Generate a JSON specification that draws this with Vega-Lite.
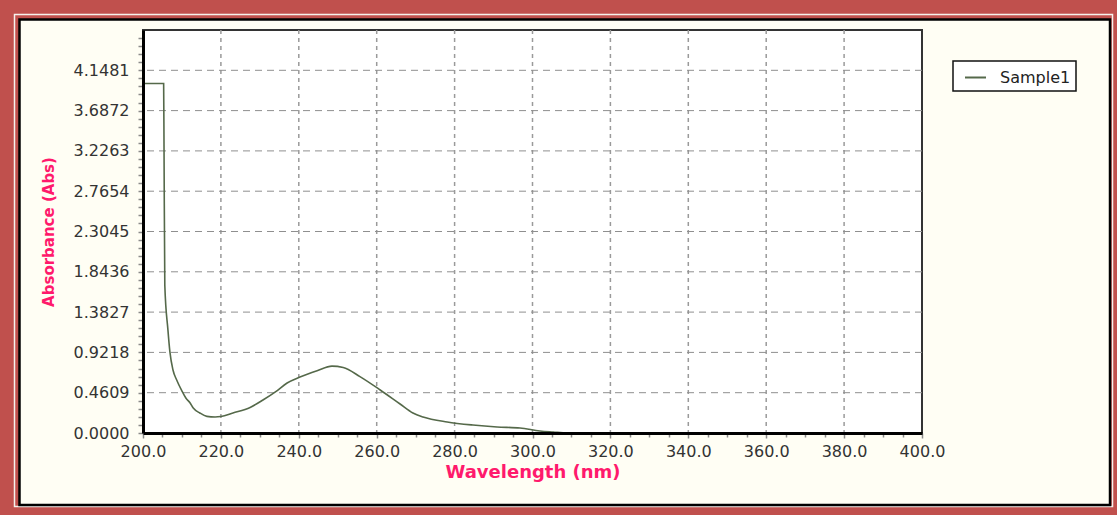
{
  "$schema": "https://vega.github.io/schema/vega-lite/v6.json",
  "width": 779,
  "height": 403,
  "autosize": {"type": "none"},
  "padding": {"left": 143, "top": 30, "right": 195, "bottom": 82},
  "background": "#c0504d",
  "config": {
    "view": {"stroke": null},
    "font": "DejaVu Sans",
    "legend": {
      "orient": "none",
      "legendX": 810,
      "legendY": 31,
      "fillColor": "white",
      "strokeColor": "#111111",
      "strokeWidth": 1.5,
      "padding": 5,
      "symbolType": "stroke",
      "symbolSize": 441,
      "symbolStrokeWidth": 2,
      "symbolOffset": 6,
      "labelFontSize": 16,
      "labelColor": "#222222",
      "labelOffset": 13,
      "labelFont": "DejaVu Sans"
    }
  },
  "datasets": {
    "one": [{"frame": "box"}],
    "spectrum": [
      {"wavelength": 200, "absorbance": 3.997, "series": "Sample1"},
      {"wavelength": 205.3, "absorbance": 3.997, "series": "Sample1"},
      {"wavelength": 205.4, "absorbance": 3.24, "series": "Sample1"},
      {"wavelength": 205.6, "absorbance": 1.69, "series": "Sample1"},
      {"wavelength": 206.4, "absorbance": 1.18, "series": "Sample1"},
      {"wavelength": 206.9, "absorbance": 0.93, "series": "Sample1"},
      {"wavelength": 207.7, "absorbance": 0.72, "series": "Sample1"},
      {"wavelength": 208.65, "absorbance": 0.606, "series": "Sample1"},
      {"wavelength": 210.0, "absorbance": 0.48, "series": "Sample1"},
      {"wavelength": 211.0, "absorbance": 0.4, "series": "Sample1"},
      {"wavelength": 212.1, "absorbance": 0.343, "series": "Sample1"},
      {"wavelength": 212.9, "absorbance": 0.286, "series": "Sample1"},
      {"wavelength": 214.6, "absorbance": 0.229, "series": "Sample1"},
      {"wavelength": 216.4, "absorbance": 0.19, "series": "Sample1"},
      {"wavelength": 218.5, "absorbance": 0.183, "series": "Sample1"},
      {"wavelength": 220.0, "absorbance": 0.188, "series": "Sample1"},
      {"wavelength": 223.1, "absorbance": 0.229, "series": "Sample1"},
      {"wavelength": 227.5, "absorbance": 0.292, "series": "Sample1"},
      {"wavelength": 230.8, "absorbance": 0.377, "series": "Sample1"},
      {"wavelength": 234.0, "absorbance": 0.47, "series": "Sample1"},
      {"wavelength": 237.0, "absorbance": 0.572, "series": "Sample1"},
      {"wavelength": 240.3, "absorbance": 0.64, "series": "Sample1"},
      {"wavelength": 244.7, "absorbance": 0.712, "series": "Sample1"},
      {"wavelength": 248.5, "absorbance": 0.765, "series": "Sample1"},
      {"wavelength": 251.4, "absorbance": 0.75, "series": "Sample1"},
      {"wavelength": 255.7, "absorbance": 0.645, "series": "Sample1"},
      {"wavelength": 260.9, "absorbance": 0.492, "series": "Sample1"},
      {"wavelength": 266.0, "absorbance": 0.332, "series": "Sample1"},
      {"wavelength": 269.3, "absorbance": 0.229, "series": "Sample1"},
      {"wavelength": 271.9, "absorbance": 0.183, "series": "Sample1"},
      {"wavelength": 278.1, "absorbance": 0.126, "series": "Sample1"},
      {"wavelength": 284.7, "absorbance": 0.091, "series": "Sample1"},
      {"wavelength": 290.9, "absorbance": 0.069, "series": "Sample1"},
      {"wavelength": 296.8, "absorbance": 0.057, "series": "Sample1"},
      {"wavelength": 301.9, "absorbance": 0.023, "series": "Sample1"},
      {"wavelength": 305.3, "absorbance": 0.011, "series": "Sample1"},
      {"wavelength": 308.9, "absorbance": 0.0, "series": "Sample1"},
      {"wavelength": 320, "absorbance": 0.0, "series": "Sample1"},
      {"wavelength": 340, "absorbance": 0.0, "series": "Sample1"},
      {"wavelength": 360, "absorbance": 0.0, "series": "Sample1"},
      {"wavelength": 380, "absorbance": 0.0, "series": "Sample1"},
      {"wavelength": 400, "absorbance": 0.0, "series": "Sample1"}
    ],
    "xgrid": [
      {"g": 220}, {"g": 240}, {"g": 260}, {"g": 280}, {"g": 300},
      {"g": 320}, {"g": 340}, {"g": 360}, {"g": 380}
    ],
    "ygrid": [
      {"h": 0.4609}, {"h": 0.9218}, {"h": 1.3827}, {"h": 1.8436}, {"h": 2.3045},
      {"h": 2.7654}, {"h": 3.2263}, {"h": 3.6872}, {"h": 4.1481}
    ]
  },
  "resolve": {"axis": {"x": "independent", "y": "independent"}},
  "layer": [
    {
      "data": {"name": "one"},
      "mark": {"type": "rect", "fill": "transparent", "stroke": "#f6f2ee", "strokeWidth": 1.5},
      "encoding": {
        "x": {"datum": 167.01, "type": "quantitative", "scale": {"domain": [200, 400], "nice": false, "zero": false}, "axis": null},
        "x2": {"datum": 448.91},
        "y": {"datum": 4.786, "type": "quantitative", "scale": {"domain": [0, 4.609], "nice": false, "zero": false}, "axis": null},
        "y2": {"datum": -0.8406}
      }
    },
    {
      "data": {"name": "one"},
      "mark": {"type": "rect", "fill": "#fffef4", "stroke": "#000000", "strokeWidth": 2.5},
      "encoding": {
        "x": {"datum": 168.29, "type": "quantitative", "scale": {"domain": [200, 400], "nice": false, "zero": false}, "axis": null},
        "x2": {"datum": 448.27},
        "y": {"datum": 4.729, "type": "quantitative", "scale": {"domain": [0, 4.609], "nice": false, "zero": false}, "axis": null},
        "y2": {"datum": -0.8234}
      }
    },
    {
      "data": {"name": "one"},
      "mark": {"type": "rect", "fill": "#ffffff", "stroke": "#333333", "strokeWidth": 2},
      "encoding": {
        "x": {"datum": 200, "type": "quantitative", "scale": {"domain": [200, 400], "nice": false, "zero": false}, "axis": null},
        "x2": {"datum": 400},
        "y": {"datum": 0, "type": "quantitative", "scale": {"domain": [0, 4.609], "nice": false, "zero": false}, "axis": null},
        "y2": {"datum": 4.609}
      }
    },
    {
      "data": {"name": "xgrid"},
      "mark": {"type": "rule", "stroke": "#9a9a9a", "strokeWidth": 1.5, "strokeDash": [4, 4]},
      "encoding": {
        "x": {
          "field": "g", "type": "quantitative",
          "scale": {"domain": [200, 400], "nice": false, "zero": false},
          "axis": {
            "orient": "bottom", "zindex": 1, "grid": false, "labels": false, "domain": false, "title": null,
            "values": [205, 210, 215, 225, 230, 235, 245, 250, 255, 265, 270, 275, 285, 290, 295, 305, 310, 315, 325, 330, 335, 345, 350, 355, 365, 370, 375, 385, 390, 395],
            "tickSize": 4, "tickColor": "#8a8a8a", "tickWidth": 1.5
          }
        }
      }
    },
    {
      "data": {"name": "ygrid"},
      "mark": {"type": "rule", "stroke": "#8f8f8f", "strokeWidth": 1, "strokeDash": [7, 5]},
      "encoding": {
        "y": {
          "field": "h", "type": "quantitative",
          "scale": {"domain": [0, 4.609], "nice": false, "zero": false},
          "axis": {
            "orient": "left", "zindex": 1, "grid": false, "labels": false, "domain": false, "title": null,
            "values": [0.0922, 0.1844, 0.2765, 0.3687, 0.5531, 0.6453, 0.7374, 0.8296, 1.014, 1.1062, 1.1983, 1.2905, 1.4749, 1.5671, 1.6592, 1.7514, 1.9358, 2.028, 2.1201, 2.2123, 2.3967, 2.4889, 2.581, 2.6732, 2.8576, 2.9498, 3.0419, 3.1341, 3.3185, 3.4107, 3.5028, 3.595, 3.7794, 3.8716, 3.9637, 4.0559, 4.2403, 4.3325, 4.4246, 4.5168],
            "tickSize": 5, "tickColor": "#8a8a8a", "tickWidth": 1.5
          }
        }
      }
    },
    {
      "data": {"name": "spectrum"},
      "mark": {"type": "line", "strokeWidth": 1.6, "interpolate": "monotone"},
      "encoding": {
        "x": {
          "field": "wavelength", "type": "quantitative",
          "scale": {"domain": [200, 400], "nice": false, "zero": false},
          "axis": {
            "orient": "bottom", "zindex": 1, "grid": false,
            "values": [200, 220, 240, 260, 280, 300, 320, 340, 360, 380, 400],
            "format": ".1f", "labelFlush": false,
            "domainColor": "#000000", "domainWidth": 3,
            "tickColor": "#8a8a8a", "tickSize": 5, "tickWidth": 1.5,
            "labelFontSize": 16, "labelColor": "#333333", "labelPadding": 5,
            "labelFont": "DejaVu Sans",
            "title": "Wavelength (nm)",
            "titleFont": "DejaVu Sans", "titleFontSize": 18, "titleFontWeight": "bold",
            "titleColor": "#ff1a6c", "titlePadding": 4
          }
        },
        "y": {
          "field": "absorbance", "type": "quantitative",
          "scale": {"domain": [0, 4.609], "nice": false, "zero": false},
          "axis": {
            "orient": "left", "zindex": 1, "grid": false,
            "values": [0, 0.4609, 0.9218, 1.3827, 1.8436, 2.3045, 2.7654, 3.2263, 3.6872, 4.1481],
            "format": ".4f", "labelFlush": false,
            "domainColor": "#000000", "domainWidth": 3,
            "tickColor": "#8a8a8a", "tickSize": 5, "tickWidth": 1.5,
            "labelFontSize": 16, "labelColor": "#333333", "labelPadding": 9,
            "labelFont": "DejaVu Sans",
            "title": "Absorbance (Abs)",
            "titleFont": "DejaVu Sans", "titleFontSize": 15, "titleFontWeight": "bold",
            "titleColor": "#ff1a6c", "titlePadding": 17
          }
        },
        "color": {
          "field": "series", "type": "nominal",
          "scale": {"range": ["#55694a"]},
          "legend": {"title": null}
        }
      }
    }
  ]
}
